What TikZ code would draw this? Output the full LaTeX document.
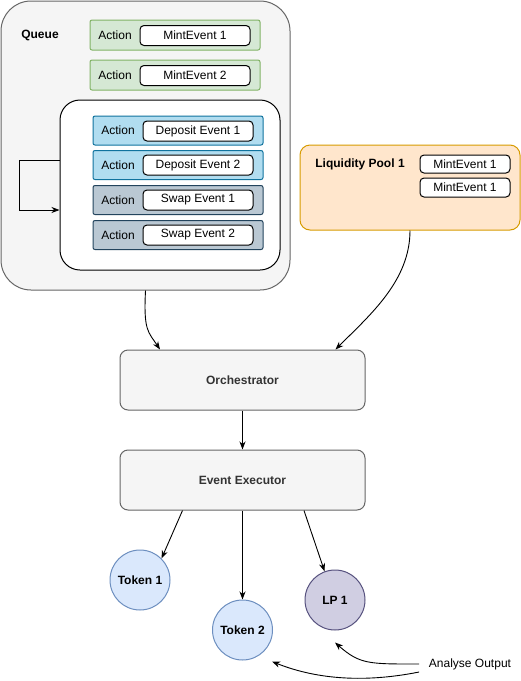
\documentclass[tikz,border=0pt]{standalone}
\usepackage{fontspec}
\setmainfont{Liberation Sans}
\usetikzlibrary{arrows.meta}

\definecolor{queuefill}{HTML}{F5F5F5}
\definecolor{queuedraw}{HTML}{666666}
\definecolor{darktext}{HTML}{333333}
\definecolor{mintfill}{HTML}{D5E8D4}
\definecolor{mintdraw}{HTML}{82B366}
\definecolor{depositfill}{HTML}{B1DDF0}
\definecolor{depositdraw}{HTML}{10739E}
\definecolor{swapfill}{HTML}{BAC8D3}
\definecolor{swapdraw}{HTML}{23445D}
\definecolor{poolfill}{HTML}{FFE6CC}
\definecolor{pooldraw}{HTML}{D79B00}
\definecolor{tokenfill}{HTML}{DAE8FC}
\definecolor{tokendraw}{HTML}{6C8EBF}
\definecolor{lpfill}{HTML}{D0CEE2}
\definecolor{lpdraw}{HTML}{56517E}

\tikzset{
  every node/.style={font=\fontsize{12}{14}\selectfont},
  title/.style={font=\fontsize{12}{14}\selectfont\bfseries},
  rowbox/.style={draw,rectangle,inner sep=0pt,rounded corners=2pt,minimum width=170pt,minimum height=30pt},
  mintrow/.style={rowbox,fill=mintfill,draw=mintdraw},
  depositrow/.style={rowbox,fill=depositfill,draw=depositdraw,minimum height=29pt},
  swaprow/.style={rowbox,fill=swapfill,draw=swapdraw,minimum height=29pt},
  eventbox/.style={draw=black,fill=white,rectangle,rounded corners=4pt,inner sep=0pt,minimum width=110pt,minimum height=20pt},
  stagebox/.style={draw=queuedraw,fill=queuefill,text=darktext,title,rectangle,rounded corners=8pt,minimum width=245pt,minimum height=60pt},
  tokennode/.style={circle,draw=tokendraw,fill=tokenfill,title,inner sep=0pt,minimum size=60pt},
  arrow/.style={-{Stealth[length=8pt,width=6pt,inset=2.5pt]},line width=0.9pt}
}

\begin{document}
\begin{tikzpicture}[x=1pt,y=-1pt,line width=1pt]
\useasboundingbox (0,0) rectangle (521,681);

% Queue with its actions
\node[draw=queuedraw,fill=queuefill,rectangle,rounded corners=30pt,minimum width=289pt,minimum height=289pt] (Queue) at (145.5,145.5) {};
\node[title] (QueueLabel) at (40,35) {Queue};

\node[mintrow] (MintRow1) at (175,35) {};
\node (MintAction1) at (115,35) {Action};
\node[eventbox] (MintEvent1) at (195,35.5) {MintEvent 1};

\node[mintrow] (MintRow2) at (175,75) {};
\node (MintAction2) at (115,75) {Action};
\node[eventbox] (MintEvent2) at (195,75.5) {MintEvent 2};

\node[draw=black,fill=white,rectangle,rounded corners=20pt,minimum width=220pt,minimum height=170pt] (Batch) at (170,185) {};

\node[depositrow] (DepositRow1) at (178,130.5) {};
\node (DepositAction1) at (118,130.5) {Action};
\node[eventbox] (DepositEvent1) at (198,131) {Deposit Event 1};

\node[depositrow] (DepositRow2) at (178,165) {};
\node (DepositAction2) at (118,165) {Action};
\node[eventbox] (DepositEvent2) at (198,165) {Deposit Event 2};

\node[swaprow] (SwapRow1) at (178,200) {};
\node (SwapAction1) at (118,200) {Action};
\node[eventbox] (SwapEvent1) at (198,200) {Swap Event 1};

\node[swaprow] (SwapRow2) at (178,235) {};
\node (SwapAction2) at (118,235) {Action};
\node[eventbox] (SwapEvent2) at (198,235) {Swap Event 2};

\draw[arrow] ([yshift=25pt]Batch.west) -- ++(-40,0) |- ([yshift=-25pt]Batch.west);

% Liquidity pool
\node[draw=pooldraw,fill=poolfill,rectangle,rounded corners=10pt,minimum width=220pt,minimum height=85pt] (Pool) at (410,187.5) {};
\node[title] (PoolLabel) at (360,164) {Liquidity Pool 1};
\node[eventbox,minimum width=90pt,minimum height=18pt] (PoolEvent1) at (465,164) {MintEvent 1};
\node[eventbox,minimum width=90pt,minimum height=19pt] (PoolEvent2) at (465,187.5) {MintEvent 1};

% Processing
\node[stagebox] (Orchestrator) at (242.5,380) {Orchestrator};
\node[stagebox] (Executor) at (242.5,480) {Event Executor};

\node[tokennode] (Token1) at (140,580) {Token 1};
\node[tokennode] (Token2) at (242.5,630) {Token 2};
\node[tokennode,draw=lpdraw,fill=lpfill] (LP) at (335,600) {LP 1};
\node (Analyse) at (470,664) {Analyse Output};

\draw[arrow] (Queue.south) .. controls +(-2,40) and +(-12,-18) .. ([xshift=-82.5pt]Orchestrator.north);
\draw[arrow] (Pool.south) .. controls +(0,50) and +(35,-35) .. ([xshift=-30pt]Orchestrator.north east);
\draw[arrow] (Orchestrator) -- (Executor);
\draw[arrow] ([xshift=-60pt]Executor.south) -- (Token1.45);
\draw[arrow] (Executor) -- (Token2);
\draw[arrow] ([xshift=61.5pt]Executor.south) -- (LP.110);
\draw[arrow] ([xshift=-6pt]Analyse.west) .. controls +(-50,0) and +(25,22) .. ([yshift=-12pt]LP.south);
\draw[arrow] ([shift={(-6pt,-8pt)}]Analyse.west) .. controls +(-60,12) and +(40,16) .. ([shift={(8pt,-10pt)}]Token2.-45);

\end{tikzpicture}
\end{document}
